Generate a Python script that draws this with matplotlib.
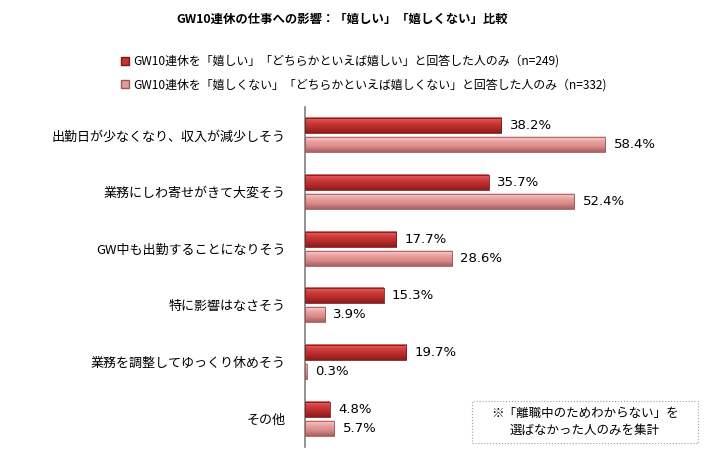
import numpy as np
import matplotlib
matplotlib.use('Agg')
import matplotlib.pyplot as plt
from matplotlib.patches import Patch, Rectangle
from matplotlib.colors import LinearSegmentedColormap

plt.rcParams['font.family'] = ['Noto Sans CJK JP', 'DejaVu Sans']

#=============== data ===============================
categories = ["出勤日が少なくなり、収入が減少しそう",
              "業務にしわ寄せがきて大変そう",
              "GW中も出勤することになりそう",
              "特に影響はなさそう",
              "業務を調整してゆっくり休めそう",
              "その他"]
happy = [38.2, 35.7, 17.7, 15.3, 19.7, 4.8]
unhappy = [58.4, 52.4, 28.6, 3.9, 0.3, 5.7]
series_labels = ["GW10連休を「嬉しい」「どちらかといえば嬉しい」と回答した人のみ（n=249)",
                 "GW10連休を「嬉しくない」「どちらかといえば嬉しくない」と回答した人のみ（n=332)"]
title = "GW10連休の仕事への影響：「嬉しい」「嬉しくない」比較"
note = "※「離職中のためわからない」を\n選ばなかった人のみを集計"

#=============== colours ===============================
dark_cmap = LinearSegmentedColormap.from_list(
    "dark", ["#e46a6a", "#d03c3c", "#b52a2a", "#8a1c1c"])
light_cmap = LinearSegmentedColormap.from_list(
    "light", ["#fbd6d6", "#eaa2a2", "#d98888", "#a86060"])
dark_face = "#c23535"
light_face = "#e39a9a"

fig = plt.figure(figsize=(7.16, 4.70), dpi=100)
ax = fig.add_axes([305/716, 23/470, 360/716, 340/470])

y = np.arange(len(categories))
off = 0.165
h = 0.265
grad = np.linspace(0, 1, 64).reshape(-1, 1)
num_font = ['DejaVu Sans', 'Noto Sans CJK JP']

def gbar(v, yc, cmap, edge):
	ax.imshow(grad, cmap=cmap, aspect='auto', interpolation='bicubic',
		extent=[0, v, yc + h/2, yc - h/2], zorder=2)
	ax.barh(yc, v, height=h, facecolor='none', edgecolor=edge, linewidth=0.6, zorder=3)

for i in range(len(categories)):
	gbar(happy[i], y[i] - off, dark_cmap, "#7a1818")
	gbar(unhappy[i], y[i] + off, light_cmap, "#9a5858")
	ax.text(happy[i] + 1.6, y[i] - off, "%.1f%%" % happy[i], va='center', ha='left',
		fontsize=9.5, family=num_font)
	ax.text(unhappy[i] + 1.6, y[i] + off, "%.1f%%" % unhappy[i], va='center', ha='left',
		fontsize=9.5, family=num_font)

ax.set_xlim(0, 70)
ax.set_ylim(len(categories) - 0.5, -0.5)
ax.set_yticks(y)
ax.set_yticklabels(categories, fontsize=9.4)
ax.tick_params(axis='y', length=0, pad=14)
ax.set_xticks([])
for s in ['top', 'right', 'bottom']:
	ax.spines[s].set_visible(False)
ax.spines['left'].set_color('#808080')
ax.spines['left'].set_linewidth(1.2)

#-------------- title / legend --------------------------
fig.text(342/716, 1 - 19/470, title, ha='center', va='center', fontsize=8.9, fontweight='bold')

handles = [Patch(facecolor=dark_face, edgecolor="#7a1818"),
           Patch(facecolor=light_face, edgecolor="#9a5858")]
fig.legend(handles, series_labels, loc='upper left', bbox_to_anchor=(121/716, 1 - 55/470),
	frameon=False, fontsize=8.6, handlelength=0.7, handleheight=0.7, handletextpad=0.3,
	labelspacing=0.85, borderaxespad=0, borderpad=0)

#-------------- note box --------------------------
fig.patches.append(Rectangle((472/716, 1 - 443/470), 226/716, 42/470, transform=fig.transFigure,
	facecolor='white', edgecolor='#a0a0a0', linestyle=':', linewidth=0.8))
fig.text(585/716, 1 - 422/470, note, ha='center', va='center', fontsize=9, linespacing=1.3)

fig.savefig("out.png", dpi=100)
